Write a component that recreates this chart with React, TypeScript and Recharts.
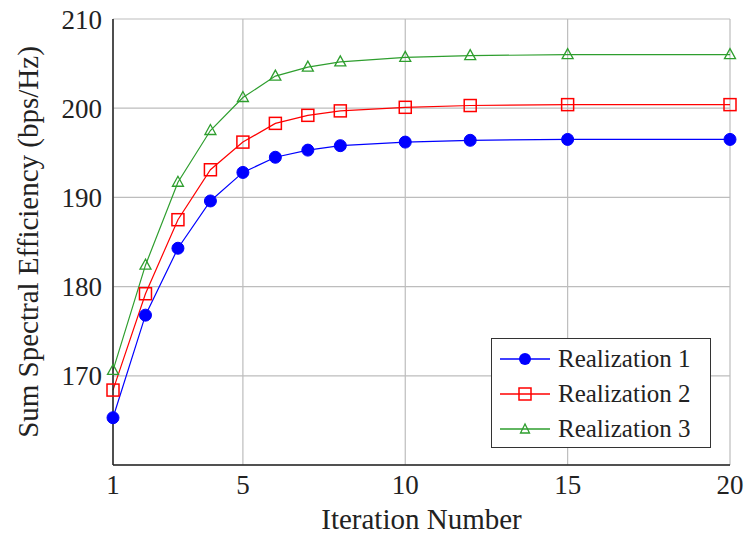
import { LineChart, Line, XAxis, YAxis, CartesianGrid } from 'recharts'

const iterations = [1, 2, 3, 4, 5, 6, 7, 8, 10, 12, 15, 20]
const realization1 = [165.3, 176.8, 184.3, 189.6, 192.8, 194.5, 195.3, 195.8, 196.2, 196.4, 196.5, 196.5]
const realization2 = [168.4, 179.2, 187.5, 193.1, 196.2, 198.3, 199.2, 199.7, 200.1, 200.3, 200.4, 200.4]
const realization3 = [170.6, 182.4, 191.7, 197.5, 201.2, 203.6, 204.6, 205.2, 205.7, 205.9, 206.0, 206.0]
const xTicks = [1, 5, 10, 15, 20]
const yTicks = [170, 180, 190, 200, 210]
const seriesNames = ['Realization 1', 'Realization 2', 'Realization 3']

const data = iterations.map((it, i) => ({
  it,
  r1: realization1[i],
  r2: realization2[i],
  r3: realization3[i],
}))

const FONT = 'Liberation Serif, Times New Roman, serif'
const BLUE = '#0000ff'
const RED = '#ff0000'
const GREEN = '#2e9e2e'

function CircleDot(props: any) {
  const { cx, cy } = props
  if (cx == null || cy == null) return null
  return <circle cx={cx} cy={cy} r={6} fill={BLUE} stroke={BLUE} />
}

function SquareDot(props: any) {
  const { cx, cy } = props
  if (cx == null || cy == null) return null
  return <rect x={cx - 6} y={cy - 6} width={12} height={12} fill="none" stroke={RED} strokeWidth={1.5} />
}

function TriangleDot(props: any) {
  const { cx, cy } = props
  if (cx == null || cy == null) return null
  return (
    <polygon
      points={`${cx},${cy - 6} ${cx - 5.5},${cy + 4} ${cx + 5.5},${cy + 4}`}
      fill="none"
      stroke={GREEN}
      strokeWidth={1.3}
    />
  )
}

function YLabel(props: any) {
  const vb = props.viewBox || { y: 19, height: 446 }
  const cx = 28
  const cy = vb.y + vb.height / 2
  return (
    <text
      x={cx}
      y={cy}
      transform={`rotate(-90 ${cx} ${cy})`}
      textAnchor="middle"
      dominantBaseline="central"
      style={{ fontFamily: FONT }}
      fontSize={29}
      fill="#222"
    >
      Sum Spectral Efficiency (bps/Hz)
    </text>
  )
}

// légende dessinée à part pour ne pas rogner la zone du graphique
function LegendBox() {
  const markers = [
    <circle cx={25} cy={10} r={6} fill={BLUE} />,
    <rect x={19} y={4} width={12} height={12} fill="none" stroke={RED} strokeWidth={1.5} />,
    <polygon points="25,5 20.5,14 29.5,14" fill="none" stroke={GREEN} strokeWidth={1.3} />,
  ]
  const colors = [BLUE, RED, GREEN]
  return (
    <div
      style={{
        position: 'absolute',
        left: 491,
        top: 338,
        width: 220,
        height: 110,
        boxSizing: 'border-box',
        border: '1.5px solid #333',
        background: '#fff',
        padding: '2px 8px',
        fontFamily: FONT,
        fontSize: 25,
        color: '#222',
      }}
    >
      {seriesNames.map((name, i) => (
        <div key={name} style={{ display: 'flex', alignItems: 'center', height: 35 }}>
          <svg width={50} height={20} style={{ marginRight: 8 }}>
            <line x1={0} y1={10} x2={50} y2={10} stroke={colors[i]} strokeWidth={1.3} />
            {markers[i]}
          </svg>
          <span>{name}</span>
        </div>
      ))}
    </div>
  )
}

export default function App() {
  return (
    <div style={{ position: 'absolute', left: 0, top: 0, width: 745, height: 537, background: '#fff', fontFamily: FONT }}>
      <LineChart width={745} height={537} data={data} margin={{ top: 19, right: 15, left: 0, bottom: 0 }}>
        <CartesianGrid stroke="#bdbdbd" strokeWidth={1.2} />
        <XAxis
          dataKey="it"
          type="number"
          domain={[1, 20]}
          ticks={xTicks}
          height={72}
          tickLine={false}
          tickSize={6}
          tickMargin={4}
          axisLine={{ stroke: '#222', strokeWidth: 1.5 }}
          tick={{ fontSize: 27, fill: '#222', style: { fontFamily: FONT } }}
          label={{ value: 'Iteration Number', position: 'insideBottom', offset: 8, fontSize: 29, fill: '#222', style: { fontFamily: FONT } }}
        />
        <XAxis
          xAxisId="top"
          orientation="top"
          dataKey="it"
          type="number"
          domain={[1, 20]}
          height={0}
          tick={false}
          tickLine={false}
          axisLine={{ stroke: '#222', strokeWidth: 1.5 }}
        />
        <YAxis
          type="number"
          domain={[160, 210]}
          ticks={yTicks}
          width={113}
          tickLine={false}
          tickSize={6}
          tickMargin={5}
          axisLine={{ stroke: '#222', strokeWidth: 1.5 }}
          tick={{ fontSize: 27, fill: '#222', style: { fontFamily: FONT } }}
          label={<YLabel />}
        />
        <YAxis
          yAxisId="right"
          orientation="right"
          type="number"
          domain={[160, 210]}
          width={0}
          tick={false}
          tickLine={false}
          axisLine={{ stroke: '#222', strokeWidth: 1.5 }}
        />
        <Line
          dataKey="r1"
          name={seriesNames[0]}
          stroke={BLUE}
          strokeWidth={1.2}
          dot={<CircleDot />}
          activeDot={false}
          isAnimationActive={false}
        />
        <Line
          dataKey="r2"
          name={seriesNames[1]}
          stroke={RED}
          strokeWidth={1.2}
          dot={<SquareDot />}
          activeDot={false}
          isAnimationActive={false}
        />
        <Line
          dataKey="r3"
          name={seriesNames[2]}
          stroke={GREEN}
          strokeWidth={1.2}
          dot={<TriangleDot />}
          activeDot={false}
          isAnimationActive={false}
        />
      </LineChart>
      <LegendBox />
    </div>
  )
}
